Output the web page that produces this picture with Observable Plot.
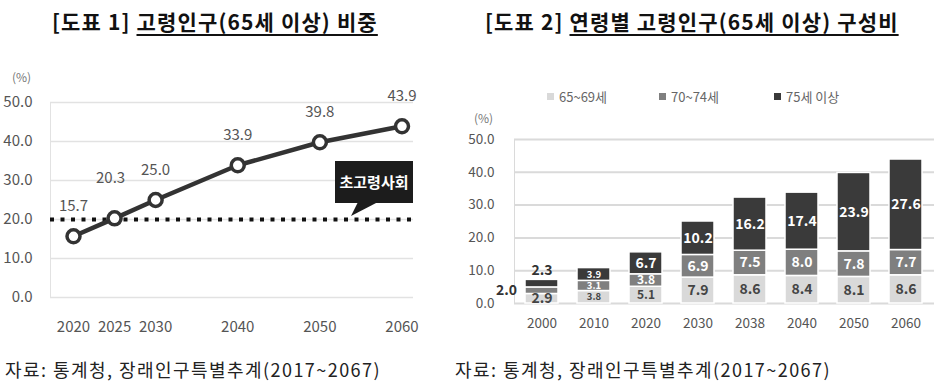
<!DOCTYPE html>
<html><head><meta charset="utf-8">
<script src="https://cdn.jsdelivr.net/npm/d3@7"></script>
<script src="https://cdn.jsdelivr.net/npm/@observablehq/plot@0.6"></script>
<style>
body{margin:0;background:#fff;font-family:"Noto Sans CJK KR","Noto Sans",sans-serif;}
#root{position:relative;width:935px;height:385px;overflow:hidden;background:#fff;}
.abs{position:absolute;white-space:nowrap;}
.title{font-size:21px;font-weight:700;color:#111;letter-spacing:1.15px;line-height:30px;}
.title u{text-decoration-thickness:1.5px;text-underline-offset:4px;}
.unit{font-size:12px;color:#777;}
.caption{font-size:18px;color:#222;line-height:26px;letter-spacing:1.45px;}
.legend-item{font-size:13px;color:#666;display:flex;align-items:center;}
.legend-item span.sw{display:inline-block;width:7px;height:7px;margin-right:5px;}
.callout{background:#1c1c1c;color:#fff;font-size:15px;font-weight:700;text-align:center;line-height:42px;}
.tail{background:#1c1c1c;clip-path:polygon(8px 0,28px 0,1px 14px);}
</style></head>
<body><div id="root">
  <div class="abs title" style="left:52px;top:6px">[도표 1] <u>고령인구(65세 이상) 비중</u></div>
  <div class="abs title" style="left:485px;top:6px">[도표 2] <u>연령별 고령인구(65세 이상) 구성비</u></div>
  <div class="abs unit" style="left:12px;top:68px">(%)</div>
  <div class="abs unit" style="left:474px;top:109px">(%)</div>
  <div id="chart1" class="abs" style="left:0;top:60px"></div>
  <div id="chart2" class="abs" style="left:455px;top:70px"></div>
  <div id="legend"></div>
  <div class="abs callout" style="left:335px;top:161px;width:78px;height:42px">초고령사회</div>
  <div class="abs tail" style="left:350px;top:202px;width:30px;height:15px"></div>
  <div class="abs caption" style="left:5px;top:356px">자료: 통계청, 장래인구특별추계(2017~2067)</div>
  <div class="abs caption" style="left:455px;top:356px">자료: 통계청, 장래인구특별추계(2017~2067)</div>
</div>
<script>
// ---- Chart 1 data ----
const lineYears = [2020, 2025, 2030, 2040, 2050, 2060];
const lineValues = [15.7, 20.3, 25.0, 33.9, 39.8, 43.9];
const superAgedThreshold = 20;
const yTicks = [0, 10, 20, 30, 40, 50];

// ---- Chart 2 data ----
const barYears = ["2000", "2010", "2020", "2030", "2038", "2040", "2050", "2060"];
const ageGroups = ["65~69세", "70~74세", "75세 이상"];
const age65to69 = [2.9, 3.8, 5.1, 7.9, 8.6, 8.4, 8.1, 8.6];
const age70to74 = [2.0, 3.1, 3.8, 6.9, 7.5, 8.0, 7.8, 7.7];
const age75plus = [2.3, 3.9, 6.7, 10.2, 16.2, 17.4, 23.9, 27.6];
const groupColors = ["#d9d9d9", "#7f7f7f", "#3a3a3a"];

const FONT = '"Noto Sans CJK KR","Noto Sans",sans-serif';
const fmt = d3.format(".1f");

const lineData = lineYears.map((year, i) => ({year, value: lineValues[i]}));

const chart1 = Plot.plot({
  width: 440, height: 285,
  marginLeft: 50, marginRight: 27, marginTop: 42, marginBottom: 48,
  style: {fontFamily: FONT, fontSize: "15px", color: "#555", background: "transparent"},
  x: {type: "linear", domain: [2017.2, 2061.4]},
  y: {domain: [0, 50]},
  marks: [
    Plot.gridY(yTicks, {stroke: "#e2e2e2", strokeOpacity: 1, strokeWidth: 1.5}),
    Plot.frame({anchor: "left", stroke: "#e2e2e2"}),
    Plot.ruleY([superAgedThreshold], {stroke: "#111", strokeWidth: 4, strokeDasharray: "4,6.5"}),
    Plot.line(lineData, {x: "year", y: "value", stroke: "#333", strokeWidth: 4.5}),
    Plot.dot(lineData, {x: "year", y: "value", r: 6.5, fill: "white", stroke: "#333", strokeWidth: 3.5}),
    Plot.text(lineData, {filter: d => d.year !== 2025, x: "year", y: "value", text: d => fmt(d.value), dy: -30, fill: "#555", fontSize: 15}),
    Plot.text(lineData, {filter: d => d.year === 2025, x: "year", y: "value", text: d => fmt(d.value), dy: -40, dx: -4, fill: "#555", fontSize: 15}),
    Plot.axisX({ticks: lineYears, tickFormat: "d", tickSize: 0, tickPadding: 24, fontSize: 15, fill: "#555", label: null}),
    Plot.axisY({ticks: yTicks, tickFormat: fmt, tickSize: 0, tickPadding: 18, fontSize: 15, fill: "#555", label: null})
  ]
});
document.getElementById("chart1").appendChild(chart1);

const barData = barYears.flatMap((year, i) => [
  {year, group: ageGroups[0], value: age65to69[i]},
  {year, group: ageGroups[1], value: age70to74[i]},
  {year, group: ageGroups[2], value: age75plus[i]}
]);

const labelOpts = {x: "year", y: "value", z: "group", text: d => fmt(d.value), fontWeight: 600};
const isFirst = d => d.year === barYears[0];
const isTiny = d => d.year === barYears[1];
const isShort = d => d.year === barYears[2] && d.group !== ageGroups[2];
const normal = d => !isFirst(d) && !isTiny(d) && !isShort(d);

const chart2 = Plot.plot({
  width: 480, height: 270,
  marginLeft: 59, marginRight: 1, marginTop: 69, marginBottom: 37,
  style: {fontFamily: FONT, fontSize: "13.5px", color: "#555", background: "transparent"},
  x: {type: "band", domain: barYears, paddingInner: 0.36, paddingOuter: 0.18},
  y: {domain: [0, 50]},
  color: {domain: ageGroups, range: groupColors},
  marks: [
    Plot.gridY(yTicks, {stroke: "#dadada", strokeOpacity: 1, strokeWidth: 2}),
    Plot.frame({anchor: "left", stroke: "#dadada"}),
    Plot.barY(barData, {x: "year", y: "value", z: "group", fill: "group", stroke: "white", strokeWidth: 1.5}),
    // regular labels
    Plot.text(barData, Plot.filter(d => d.group === ageGroups[0] && (normal(d) || isFirst(d)),
      Plot.stackY({...labelOpts, fontSize: 14, fill: "#444"}))),
    Plot.text(barData, Plot.filter(d => d.group !== ageGroups[0] && normal(d),
      Plot.stackY({...labelOpts, fontSize: 14, fill: "white"}))),
    // 2020: shorter segments, slightly smaller text
    Plot.text(barData, Plot.filter(d => d.group === ageGroups[0] && isShort(d),
      Plot.stackY({...labelOpts, fontSize: 12, fill: "#444"}))),
    Plot.text(barData, Plot.filter(d => d.group === ageGroups[1] && isShort(d),
      Plot.stackY({...labelOpts, fontSize: 12, fill: "white"}))),
    // 2010: thin segments, small text
    Plot.text(barData, Plot.filter(d => d.group === ageGroups[0] && isTiny(d),
      Plot.stackY({...labelOpts, fontSize: 9.5, fill: "#444"}))),
    Plot.text(barData, Plot.filter(d => d.group !== ageGroups[0] && isTiny(d),
      Plot.stackY({...labelOpts, fontSize: 9.5, fill: "white"}))),
    // 2000: 70~74 label left of the bar
    Plot.text(barData, Plot.filter(d => d.group === ageGroups[1] && isFirst(d),
      Plot.stackY({...labelOpts, fontSize: 14, fill: "#333", textAnchor: "end", dx: -25}))),
    // 2000: 75+ label above the bar
    Plot.text(barData, Plot.filter(d => d.group === ageGroups[2] && isFirst(d),
      Plot.stackY2({...labelOpts, fontSize: 14, fill: "#333", dy: -9}))),
    Plot.axisX({tickSize: 0, tickPadding: 15, fontSize: 13.5, fill: "#555", label: null}),
    Plot.axisY({ticks: yTicks, tickFormat: fmt, tickSize: 0, tickPadding: 20, fontSize: 13.5, fill: "#555", label: null})
  ]
});
document.getElementById("chart2").appendChild(chart2);

// legend
const legendX = [547, 659, 774];
const legend = document.getElementById("legend");
ageGroups.forEach((g, i) => {
  const item = document.createElement("div");
  item.className = "abs legend-item";
  item.style.left = legendX[i] + "px";
  item.style.top = "87px";
  const sw = document.createElement("span");
  sw.className = "sw";
  sw.style.background = groupColors[i];
  item.appendChild(sw);
  item.appendChild(document.createTextNode(g));
  legend.appendChild(item);
});
</script>
</body></html>
